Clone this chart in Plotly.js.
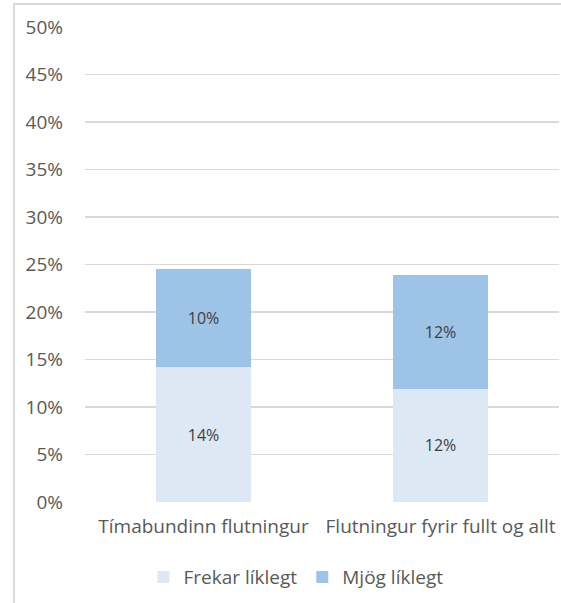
<!DOCTYPE html>
<html>
<head>
<meta charset="utf-8">
<script src="https://cdn.plot.ly/plotly-3.0.1.min.js"></script>
<style>
html,body{margin:0;padding:0;background:#fff;}
#wrap{position:relative;width:561px;height:603px;overflow:hidden;}
#chart{width:561px;height:603px;}
#frame{position:absolute;left:13px;top:3px;width:600px;height:700px;border:2px solid #d9d9d9;box-sizing:border-box;pointer-events:none;}
</style>
</head>
<body>
<div id="wrap">
<div id="chart"></div>
<div id="frame"></div>
</div>
<script>
const categories = ["Tímabundinn flutningur", "Flutningur fyrir fullt og allt"];
const frekarLiklegt = [0.142, 0.119];
const mjogLiklegt = [0.103, 0.120];
const seriesNames = ["Frekar líklegt", "Mjög líklegt"];
const yTickVals = [0, 0.05, 0.10, 0.15, 0.20, 0.25, 0.30, 0.35, 0.40, 0.45, 0.50];
const yTickText = ["0%", "5%", "10%", "15%", "20%", "25%", "30%", "35%", "40%", "45%", "50%"];

const font = "'Open Sans', 'Noto Sans', sans-serif";
const common = {
  type: 'bar',
  x: categories,
  texttemplate: '%{y:.0%}',
  textposition: 'inside',
  insidetextanchor: 'middle',
  textfont: {family: font, size: 16, color: '#404040'},
  hoverinfo: 'skip'
};
const data = [
  Object.assign({}, common, {y: frekarLiklegt, name: seriesNames[0], marker: {color: '#dde8f5'}}),
  Object.assign({}, common, {y: mjogLiklegt, name: seriesNames[1], marker: {color: '#9dc3e6'}})
];
const layout = {
  width: 561, height: 603,
  margin: {l: 85, r: 2, t: 27, b: 101},
  barmode: 'stack',
  bargap: 0.6,
  paper_bgcolor: '#ffffff',
  plot_bgcolor: '#ffffff',
  font: {family: font, color: '#595959'},
  showlegend: true,
  legend: {orientation: 'h', x: 0.445, xanchor: 'center', y: -0.158, yanchor: 'middle',
           itemwidth: 30,
           font: {family: font, size: 19, color: '#595959'}, traceorder: 'normal'},
  xaxis: {showline: false, showgrid: false, zeroline: false, ticks: '', ticklabelstandoff: 11,
          tickfont: {family: font, size: 19, color: '#595959'}, fixedrange: true},
  yaxis: {range: [0, 0.5], tickvals: yTickVals, ticktext: yTickText,
          showgrid: true, gridcolor: '#d9d9d9', gridwidth: 1.5, zeroline: false, showline: false,
          ticks: '', ticklabelstandoff: 21,
          tickfont: {family: font, size: 19, color: '#595959'}, fixedrange: true}
};
Plotly.newPlot('chart', data, layout, {displayModeBar: false, staticPlot: true});
</script>
</body>
</html>
